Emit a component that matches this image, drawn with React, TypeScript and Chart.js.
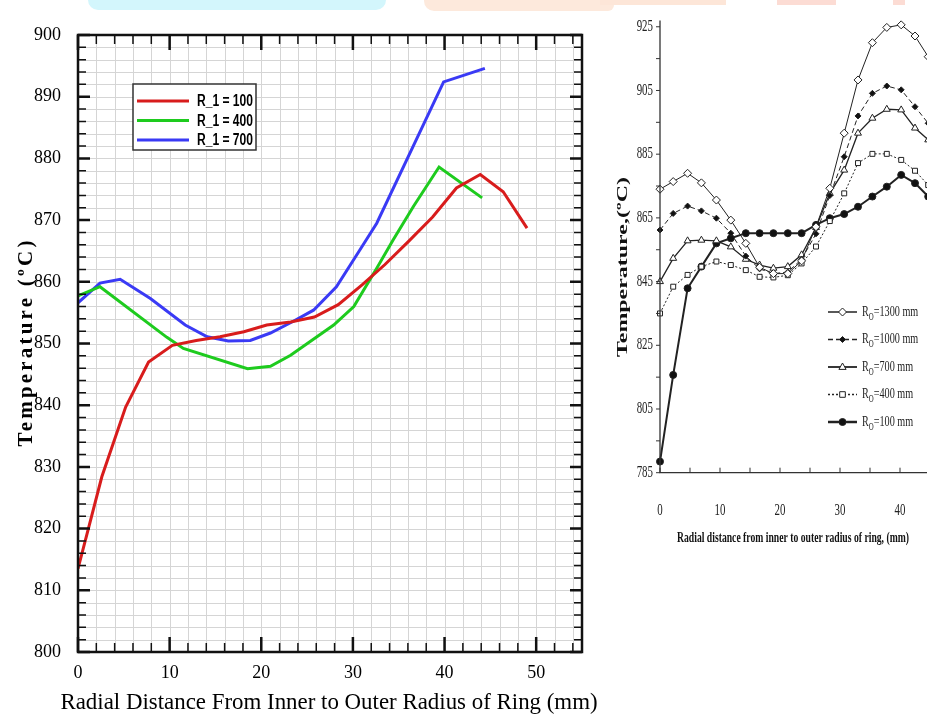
import React, { useEffect, useRef } from "react";
import { Chart, registerables } from "chart.js";

Chart.register(...registerables);

// ---------------- Left chart data ----------------
const LEFT_X_LABELS = [0, 10, 20, 30, 40, 50];
const LEFT_Y_LABELS = [800, 810, 820, 830, 840, 850, 860, 870, 880, 890, 900];
const LEFT_X_RANGE = [0, 55];
const LEFT_Y_RANGE = [800, 900];
const LEFT_MINOR_STEP = 2;
const LEFT_MAJOR_STEP = 10;
const LEFT_X_TITLE = "Radial Distance From Inner to Outer Radius of Ring (mm)";
const LEFT_Y_TITLE = "Temperature (ºC)";
const LEFT_SERIES_LABELS = ["R_1 = 100", "R_1 = 400", "R_1 = 700"];

const R1_100_X = [0, 2.6, 5.2, 7.7, 10.3, 12.9, 15.5, 18.1, 20.6, 23.2, 25.8, 28.4, 31.0, 33.5, 36.1, 38.7, 41.3, 43.9, 46.4, 49.0];
const R1_100_Y = [813.5, 828.4, 839.7, 847.0, 849.7, 850.5, 851.1, 851.9, 853.0, 853.5, 854.3, 856.3, 859.5, 862.8, 866.6, 870.5, 875.2, 877.4, 874.6, 868.7];

const R1_400_X = [0, 2.4, 9.7, 11.5, 18.5, 21.0, 23.2, 27.9, 30.1, 32.6, 34.4, 36.6, 39.4, 44.1];
const R1_400_Y = [857.7, 859.2, 851.0, 849.2, 845.9, 846.3, 848.1, 853.0, 856.0, 862.2, 866.8, 872.2, 878.6, 873.6];

const R1_700_X = [0, 2.4, 4.6, 7.9, 11.7, 14.1, 16.4, 18.8, 21.0, 23.5, 25.7, 28.2, 30.6, 32.6, 39.9, 44.4];
const R1_700_Y = [856.6, 859.8, 860.4, 857.3, 853.0, 851.1, 850.4, 850.5, 851.7, 853.6, 855.4, 859.2, 864.8, 869.5, 892.4, 894.6];

const LEFT_COLORS = ["#d81c1c", "#1ecb1e", "#3a3af5"];

// ---------------- Right chart data ----------------
const RIGHT_X_LABELS = [0, 10, 20, 30, 40, 50];
const RIGHT_Y_LABELS = [785, 805, 825, 845, 865, 885, 905, 925];
const RIGHT_X_RANGE = [0, 50];
const RIGHT_Y_RANGE = [785, 927];
const RIGHT_X_TICK_STEP = 5;
const RIGHT_Y_TICK_STEP = 10;
const RIGHT_X_TITLE = "Radial distance from inner to outer radius of ring, (mm)";
const RIGHT_Y_TITLE = "Temperature,(ºC)";
const RIGHT_SERIES_VALUES = ["1300", "1000", "700", "400", "100"];

const RIGHT_X = [0, 2.2, 4.6, 6.9, 9.4, 11.8, 14.3, 16.6, 18.9, 21.3, 23.6, 26.0, 28.3, 30.7, 33.0, 35.4, 37.8, 40.2, 42.5, 44.7];
const RO_1300 = [874.0, 876.4, 879.0, 876.0, 870.6, 864.3, 857.0, 849.5, 847.5, 847.5, 851.5, 862.2, 874.3, 891.6, 908.3, 920.0, 924.8, 925.6, 922.1, 915.6];
const RO_1000 = [861.2, 866.4, 868.7, 867.2, 864.9, 860.2, 853.0, 849.0, 847.5, 848.0, 852.0, 860.0, 872.0, 884.2, 897.0, 904.1, 906.4, 905.2, 899.9, 894.7];
const RO_700 = [845.0, 852.3, 857.8, 858.0, 857.8, 855.9, 852.0, 850.2, 849.2, 849.7, 853.4, 862.0, 872.7, 880.0, 891.6, 896.3, 899.1, 898.9, 893.2, 889.5];
const RO_400 = [835.0, 843.4, 847.1, 849.7, 851.3, 850.2, 848.6, 846.5, 846.3, 847.0, 850.7, 856.0, 864.0, 872.7, 882.2, 885.1, 885.1, 883.2, 879.8, 875.3];
const RO_100 = [788.5, 815.7, 842.9, 849.7, 857.0, 858.6, 860.2, 860.2, 860.2, 860.2, 860.2, 862.8, 864.9, 866.2, 868.5, 871.7, 874.8, 878.5, 875.9, 871.7];

const RIGHT_STYLES = [
  { dash: [] as number[], width: 1, point: "rectRot", fill: "#ffffff", radius: 4 },
  { dash: [5, 3], width: 1, point: "rectRot", fill: "#111111", radius: 3 },
  { dash: [] as number[], width: 1.3, point: "triangle", fill: "#ffffff", radius: 4 },
  { dash: [2, 2], width: 1, point: "rect", fill: "#ffffff", radius: 3.5 },
  { dash: [] as number[], width: 2, point: "circle", fill: "#111111", radius: 3.5 },
];

const SERIF = '"Liberation Serif", "Times New Roman", serif';

const pts = (xs: number[], ys: number[]) => xs.map((x, i) => ({ x, y: ys[i] }));

// ---------------- Left chart plugin ----------------
const leftDeco = {
  id: "leftDeco",
  beforeDatasetsDraw(chart: any) {
    const { ctx, chartArea: a, scales } = chart;
    const x = scales.x;
    const y = scales.y;
    ctx.save();
    ctx.strokeStyle = "#d5d5d5";
    ctx.lineWidth = 1;
    ctx.beginPath();
    for (let v = LEFT_X_RANGE[0]; v <= LEFT_X_RANGE[1]; v += LEFT_MINOR_STEP) {
      const p = Math.round(x.getPixelForValue(v)) + 0.5;
      ctx.moveTo(p, a.top);
      ctx.lineTo(p, a.bottom);
    }
    for (let v = LEFT_Y_RANGE[0]; v <= LEFT_Y_RANGE[1]; v += LEFT_MINOR_STEP) {
      const p = Math.round(y.getPixelForValue(v)) + 0.5;
      ctx.moveTo(a.left, p);
      ctx.lineTo(a.right, p);
    }
    ctx.stroke();
    ctx.restore();
  },
  afterDatasetsDraw(chart: any) {
    const { ctx, chartArea: a, scales } = chart;
    const x = scales.x;
    const y = scales.y;
    ctx.save();
    ctx.strokeStyle = "#111";
    for (let v = LEFT_X_RANGE[0]; v <= LEFT_X_RANGE[1]; v += LEFT_MINOR_STEP) {
      const major = v % LEFT_MAJOR_STEP === 0;
      const len = major ? 15 : 9;
      ctx.lineWidth = major ? 2.5 : 1.5;
      const p = x.getPixelForValue(v);
      ctx.beginPath();
      ctx.moveTo(p, a.bottom);
      ctx.lineTo(p, a.bottom - len);
      ctx.moveTo(p, a.top);
      ctx.lineTo(p, a.top + len);
      ctx.stroke();
    }
    for (let v = LEFT_Y_RANGE[0]; v <= LEFT_Y_RANGE[1]; v += LEFT_MINOR_STEP) {
      const major = v % LEFT_MAJOR_STEP === 0;
      const len = major ? 12 : 8;
      ctx.lineWidth = major ? 2.5 : 1.5;
      const p = y.getPixelForValue(v);
      ctx.beginPath();
      ctx.moveTo(a.left, p);
      ctx.lineTo(a.left + len, p);
      ctx.moveTo(a.right, p);
      ctx.lineTo(a.right - len, p);
      ctx.stroke();
    }
    ctx.lineWidth = 2.5;
    ctx.strokeRect(a.left, a.top, a.right - a.left, a.bottom - a.top);

    // legend
    const bx = 133, by = 84, bw = 123, bh = 66;
    ctx.fillStyle = "#ffffff";
    ctx.fillRect(bx, by, bw, bh);
    ctx.lineWidth = 1.5;
    ctx.strokeStyle = "#333";
    ctx.strokeRect(bx, by, bw, bh);
    chart.data.datasets.forEach((ds: any, i: number) => {
      const ry = by + 17 + i * 19.5;
      ctx.strokeStyle = ds.borderColor;
      ctx.lineWidth = 3;
      ctx.beginPath();
      ctx.moveTo(bx + 4, ry);
      ctx.lineTo(bx + 56, ry);
      ctx.stroke();
      ctx.save();
      ctx.translate(bx + 64, ry + 1);
      ctx.font = 'bold 16px "Liberation Sans", Arial, sans-serif';
      const w = ctx.measureText(ds.label).width;
      ctx.scale(56 / w, 1);
      ctx.fillStyle = "#000";
      ctx.textBaseline = "middle";
      ctx.textAlign = "left";
      ctx.fillText(ds.label, 0, 0);
      ctx.restore();
    });

    // x title
    ctx.save();
    ctx.font = "22.9px " + SERIF;
    ctx.fillStyle = "#000";
    ctx.textAlign = "center";
    ctx.textBaseline = "middle";
    ctx.fillText(LEFT_X_TITLE, 329, 703);
    ctx.restore();

    // y title
    ctx.translate(27, 342);
    ctx.rotate(-Math.PI / 2);
    ctx.font = "bold 21px " + SERIF;
    (ctx as any).letterSpacing = "3.2px";
    ctx.textAlign = "center";
    ctx.textBaseline = "middle";
    ctx.fillStyle = "#000";
    ctx.fillText(LEFT_Y_TITLE, 0, 0);
    ctx.restore();
  },
};

// ---------------- Right chart helpers ----------------
function drawMarker(ctx: CanvasRenderingContext2D, kind: string, cx: number, cy: number, r: number, fill: string) {
  ctx.beginPath();
  if (kind === "circle") {
    ctx.arc(cx, cy, r, 0, Math.PI * 2);
  } else if (kind === "rectRot") {
    ctx.moveTo(cx, cy - r);
    ctx.lineTo(cx + r, cy);
    ctx.lineTo(cx, cy + r);
    ctx.lineTo(cx - r, cy);
    ctx.closePath();
  } else if (kind === "triangle") {
    ctx.moveTo(cx, cy - r);
    ctx.lineTo(cx + r * 0.9, cy + r * 0.6);
    ctx.lineTo(cx - r * 0.9, cy + r * 0.6);
    ctx.closePath();
  } else {
    ctx.rect(cx - r * 0.8, cy - r * 0.8, r * 1.6, r * 1.6);
  }
  ctx.fillStyle = fill;
  ctx.fill();
  ctx.setLineDash([]);
  ctx.lineWidth = 1;
  ctx.strokeStyle = "#222";
  ctx.stroke();
}

function fitText(ctx: CanvasRenderingContext2D, text: string, cx: number, cy: number, targetW: number, rot: number) {
  ctx.save();
  ctx.translate(cx, cy);
  ctx.rotate(rot);
  const w = ctx.measureText(text).width;
  ctx.scale(targetW / w, 1);
  ctx.textAlign = "center";
  ctx.textBaseline = "middle";
  ctx.fillText(text, 0, 0);
  ctx.restore();
}

function condensedText(ctx: CanvasRenderingContext2D, text: string, x: number, y: number, sx: number, align: string) {
  ctx.save();
  ctx.translate(x, y);
  ctx.scale(sx, 1);
  ctx.textAlign = align as CanvasTextAlign;
  ctx.textBaseline = "middle";
  ctx.fillText(text, 0, 0);
  ctx.restore();
}

const rightDeco = {
  id: "rightDeco",
  afterDatasetsDraw(chart: any) {
    const { ctx, chartArea: a, scales } = chart;
    const x = scales.x;
    const y = scales.y;
    ctx.save();
    ctx.strokeStyle = "#333";
    ctx.lineWidth = 1.3;
    ctx.beginPath();
    ctx.moveTo(a.left, a.top);
    ctx.lineTo(a.left, a.bottom);
    ctx.lineTo(a.right, a.bottom);
    ctx.stroke();
    ctx.lineWidth = 1;
    ctx.beginPath();
    for (let v = RIGHT_Y_RANGE[0]; v <= RIGHT_Y_RANGE[1]; v += RIGHT_Y_TICK_STEP) {
      const p = y.getPixelForValue(v);
      ctx.moveTo(a.left, p);
      ctx.lineTo(a.left - 4, p);
    }
    for (let v = RIGHT_X_RANGE[0]; v <= RIGHT_X_RANGE[1]; v += RIGHT_X_TICK_STEP) {
      const p = x.getPixelForValue(v);
      ctx.moveTo(p, a.bottom);
      ctx.lineTo(p, a.bottom - 5);
    }
    ctx.stroke();

    // tick labels (condensed serif)
    ctx.fillStyle = "#222";
    ctx.font = "16px " + SERIF;
    RIGHT_Y_LABELS.forEach((v) => {
      condensedText(ctx, String(v), a.left - 7, y.getPixelForValue(v), 0.68, "right");
    });
    RIGHT_X_LABELS.forEach((v) => {
      condensedText(ctx, String(v), x.getPixelForValue(v), a.bottom + 38, 0.68, "center");
    });

    // legend
    chart.data.datasets.forEach((ds: any, i: number) => {
      const st = RIGHT_STYLES[i];
      const ry = 312 + i * 27.5;
      ctx.strokeStyle = "#222";
      ctx.lineWidth = st.width + 0.5;
      ctx.setLineDash(st.dash);
      ctx.beginPath();
      ctx.moveTo(228, ry);
      ctx.lineTo(257, ry);
      ctx.stroke();
      ctx.setLineDash([]);
      drawMarker(ctx, st.point, 242.5, ry, st.radius, st.fill);
      ctx.save();
      ctx.translate(262, ry);
      ctx.scale(0.68, 1);
      ctx.fillStyle = "#222";
      ctx.textBaseline = "middle";
      ctx.textAlign = "left";
      ctx.font = "15px " + SERIF;
      ctx.fillText("R", 0, 0);
      let off = ctx.measureText("R").width;
      ctx.font = "10px " + SERIF;
      ctx.fillText("O", off, 5);
      off += ctx.measureText("O").width;
      ctx.font = "15px " + SERIF;
      ctx.fillText("=" + RIGHT_SERIES_VALUES[i] + " mm", off, 0);
      ctx.restore();
    });

    // titles
    ctx.fillStyle = "#111";
    ctx.font = "bold 15px " + SERIF;
    fitText(ctx, RIGHT_X_TITLE, 193, 538, 232, 0);
    fitText(ctx, RIGHT_Y_TITLE, 23, 267, 180, -Math.PI / 2);
    ctx.restore();
  },
};

export default function App() {
  const leftRef = useRef<HTMLCanvasElement | null>(null);
  const rightRef = useRef<HTMLCanvasElement | null>(null);

  useEffect(() => {
    const leftSeries = [pts(R1_100_X, R1_100_Y), pts(R1_400_X, R1_400_Y), pts(R1_700_X, R1_700_Y)];
    const left = new Chart(leftRef.current as HTMLCanvasElement, {
      type: "line",
      data: {
        datasets: leftSeries.map((d, i) => ({
          label: LEFT_SERIES_LABELS[i],
          data: d,
          borderColor: LEFT_COLORS[i],
          backgroundColor: LEFT_COLORS[i],
          borderWidth: 3,
          pointRadius: 0,
          tension: 0,
          fill: false,
        })),
      },
      options: {
        responsive: false,
        animation: false,
        events: [],
        layout: { padding: { top: 35, right: 18, left: 0, bottom: 0 } },
        plugins: { legend: { display: false }, tooltip: { enabled: false } },
        scales: {
          x: {
            type: "linear",
            min: LEFT_X_RANGE[0],
            max: LEFT_X_RANGE[1],
            grid: { display: false },
            border: { display: false },
            afterBuildTicks: (s: any) => {
              s.ticks = LEFT_X_LABELS.map((v) => ({ value: v }));
            },
            afterFit: (s: any) => {
              s.height = 64;
            },
            ticks: {
              color: "#000",
              padding: 2,
              maxRotation: 0,
              autoSkip: false,
              font: { family: SERIF, size: 18 },
            },
          },
          y: {
            type: "linear",
            min: LEFT_Y_RANGE[0],
            max: LEFT_Y_RANGE[1],
            grid: { display: false },
            border: { display: false },
            afterBuildTicks: (s: any) => {
              s.ticks = LEFT_Y_LABELS.map((v) => ({ value: v }));
            },
            afterFit: (s: any) => {
              s.width = 78;
            },
            ticks: {
              color: "#000",
              padding: 9,
              autoSkip: false,
              font: { family: SERIF, size: 18 },
            },
          },
        },
      } as any,
      plugins: [leftDeco],
    });

    const rightSeries = [RO_1300, RO_1000, RO_700, RO_400, RO_100];
    const right = new Chart(rightRef.current as HTMLCanvasElement, {
      type: "line",
      data: {
        datasets: rightSeries.map((ys, i) => ({
          label: "RO=" + RIGHT_SERIES_VALUES[i] + " mm",
          data: pts(RIGHT_X, ys),
          borderColor: "#222",
          borderWidth: RIGHT_STYLES[i].width,
          borderDash: RIGHT_STYLES[i].dash,
          pointStyle: RIGHT_STYLES[i].point,
          pointRadius: RIGHT_STYLES[i].radius,
          pointBackgroundColor: RIGHT_STYLES[i].fill,
          pointBorderColor: "#222",
          pointBorderWidth: 1,
          tension: 0,
          fill: false,
        })),
      },
      options: {
        responsive: false,
        animation: false,
        events: [],
        clip: false,
        layout: { padding: { top: 20.4, right: 20, left: 0, bottom: 0 } },
        plugins: { legend: { display: false }, tooltip: { enabled: false } },
        scales: {
          x: {
            type: "linear",
            min: RIGHT_X_RANGE[0],
            max: RIGHT_X_RANGE[1],
            grid: { display: false },
            border: { display: false },
            afterBuildTicks: (s: any) => {
              s.ticks = RIGHT_X_LABELS.map((v) => ({ value: v }));
            },
            afterFit: (s: any) => {
              s.height = 560 - 472.7;
            },
            ticks: { display: false },
          },
          y: {
            type: "linear",
            min: RIGHT_Y_RANGE[0],
            max: RIGHT_Y_RANGE[1],
            grid: { display: false },
            border: { display: false },
            afterBuildTicks: (s: any) => {
              s.ticks = RIGHT_Y_LABELS.map((v) => ({ value: v }));
            },
            afterFit: (s: any) => {
              s.width = 60;
            },
            ticks: { display: false },
          },
        },
      } as any,
      plugins: [rightDeco],
    });

    return () => {
      left.destroy();
      right.destroy();
    };
  }, []);

  return (
    <div
      style={{
        position: "fixed",
        left: 0,
        top: 0,
        width: 927,
        height: 716,
        overflow: "hidden",
        background: "#ffffff",
      }}
    >
      <div style={{ position: "absolute", left: 88, top: 0, width: 298, height: 10, background: "#d3f6fc", borderRadius: "0 0 12px 12px" }} />
      <div style={{ position: "absolute", left: 424, top: 0, width: 190, height: 11, background: "#fde9dc", borderRadius: "0 0 6px 10px" }} />
      <div style={{ position: "absolute", left: 600, top: 0, width: 126, height: 5, background: "#fde6d8" }} />
      <div style={{ position: "absolute", left: 777, top: 0, width: 59, height: 5, background: "#fcdcd4" }} />
      <div style={{ position: "absolute", left: 893, top: 0, width: 12, height: 5, background: "#fcdcd4" }} />
      <canvas ref={leftRef} width={600} height={716} style={{ position: "absolute", left: 0, top: 0 }} />
      <canvas ref={rightRef} width={380} height={560} style={{ position: "absolute", left: 600, top: 0 }} />
    </div>
  );
}
